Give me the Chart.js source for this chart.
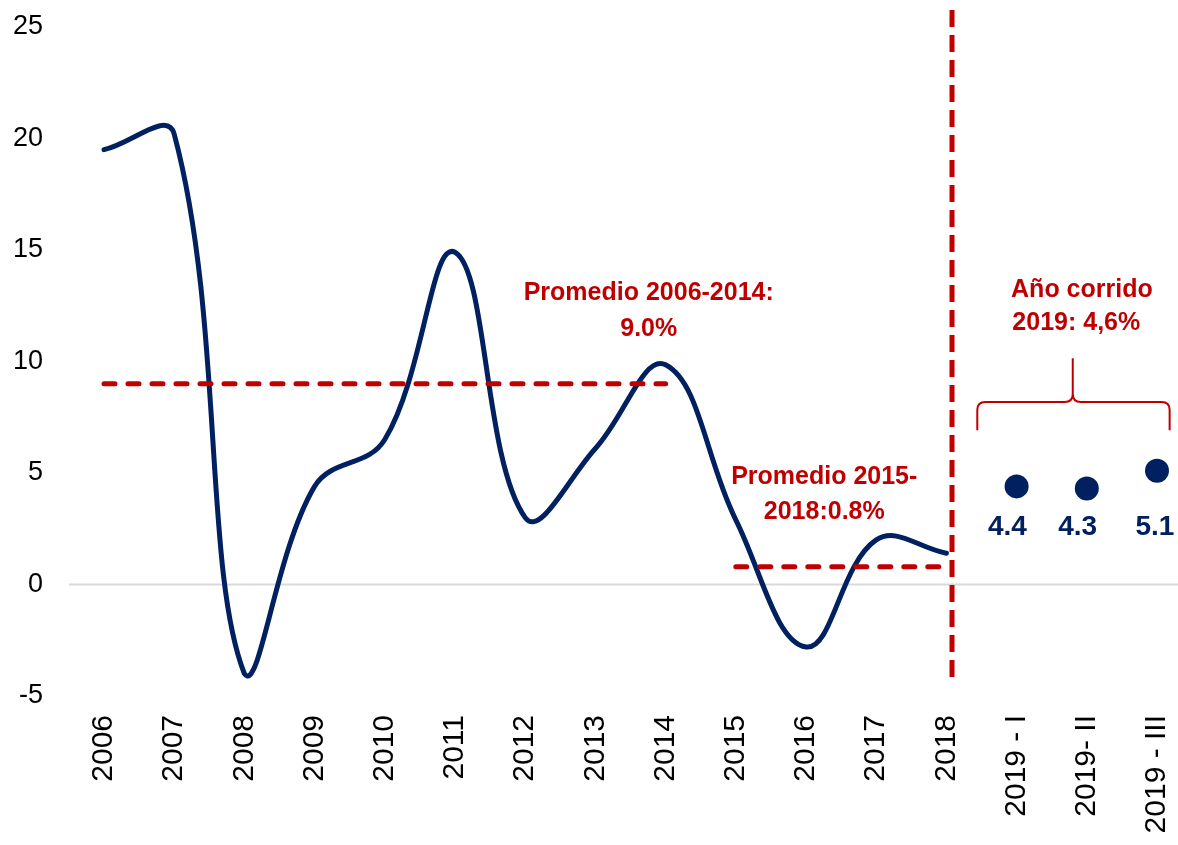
<!DOCTYPE html>
<html>
<head>
<meta charset="utf-8">
<script src="https://cdn.jsdelivr.net/npm/chart.js@4/dist/chart.umd.min.js"></script>
<style>
  html, body { margin: 0; padding: 0; background: #ffffff; overflow: hidden; }
  #wrap { width: 1178px; height: 845px; }
</style>
</head>
<body>
<div id="wrap"><canvas id="c" width="1178" height="845"></canvas></div>
<script>
// ---------------- DATA ----------------
const categories = ['2006','2007','2008','2009','2010','2011','2012','2013','2014','2015','2016','2017','2018','2019 - I','2019- II','2019 - III'];
const annualGrowth = [19.5, 20.2, -4.0, 4.4, 6.5, 14.9, 3.0, 6.1, 9.85, 2.9, -2.8, 2.0, 1.4, null, null, null];
const quarters2019 = [null, null, null, null, null, null, null, null, null, null, null, null, null, 4.4, 4.3, 5.1];
const avg2006_2014 = [9.0, 9.0, 9.0, 9.0, 9.0, 9.0, 9.0, 9.0, 9.0, null, null, null, null, null, null, null];
const avg2015_2018 = [null, null, null, null, null, null, null, null, null, 0.8, 0.8, 0.8, 0.8, null, null, null];
const yTicks = [-5, 0, 5, 10, 15, 20, 25];
const quarterLabels = ['4.4', '4.3', '5.1'];

// ---------------- STYLE ----------------
const NAVY = '#002060';
const RED = '#C00000';
const FONT = '"Liberation Sans", Arial, Helvetica, sans-serif';

const overlayPlugin = {
  id: 'overlay',
  beforeDatasetsDraw(chart) {
    const ctx = chart.ctx, y = chart.scales.y;
    const py = y.getPixelForValue(0);
    ctx.save();
    ctx.strokeStyle = '#d9d9d9';
    ctx.lineWidth = 2;
    ctx.beginPath();
    ctx.moveTo(69, py);
    ctx.lineTo(chart.width, py);
    ctx.stroke();
    ctx.restore();
  },
  afterDatasetsDraw(chart) {
    const ctx = chart.ctx, x = chart.scales.x, y = chart.scales.y;
    ctx.save();
    // vertical dashed separator
    const vx = x.getPixelForValue(12.08);
    ctx.strokeStyle = RED;
    ctx.lineWidth = 5;
    ctx.setLineDash([17, 8]);
    ctx.beginPath();
    ctx.moveTo(vx, y.getPixelForValue(25.76));
    ctx.lineTo(vx, y.getPixelForValue(-4.42));
    ctx.stroke();
    ctx.setLineDash([]);

    // curly bracket
    const bl = x.getPixelForValue(12.44), br = x.getPixelForValue(15.18), bm = x.getPixelForValue(13.8);
    const yEnd = y.getPixelForValue(6.92), yBar = y.getPixelForValue(8.18), yTip = y.getPixelForValue(10.15);
    const r = 8;
    ctx.lineWidth = 2;
    ctx.strokeStyle = RED;
    ctx.beginPath();
    ctx.moveTo(bl, yEnd);
    ctx.lineTo(bl, yBar + r);
    ctx.quadraticCurveTo(bl, yBar, bl + r, yBar);
    ctx.lineTo(bm - r, yBar);
    ctx.quadraticCurveTo(bm, yBar, bm, yBar - r);
    ctx.lineTo(bm, yTip);
    ctx.moveTo(bm, yBar - r);
    ctx.quadraticCurveTo(bm, yBar, bm + r, yBar);
    ctx.lineTo(br - r, yBar);
    ctx.quadraticCurveTo(br, yBar, br, yBar + r);
    ctx.lineTo(br, yEnd);
    ctx.stroke();

    // annotation texts
    ctx.textAlign = 'center';
    ctx.textBaseline = 'middle';
    ctx.fillStyle = RED;
    ctx.font = 'bold 25px ' + FONT;
    const notes = [
      ['Promedio 2006-2014:', 7.76, 13.05],
      ['9.0%', 7.76, 11.45],
      ['Promedio 2015-', 10.26, 4.8],
      ['2018:0.8%', 10.26, 3.25],
      ['Año corrido', 13.93, 13.2],
      ['2019: 4,6%', 13.85, 11.7]
    ];
    notes.forEach(n => ctx.fillText(n[0], x.getPixelForValue(n[1]), y.getPixelForValue(n[2])));

    // data labels for 2019 quarters
    ctx.fillStyle = NAVY;
    ctx.font = 'bold 28px ' + FONT;
    const offs = [-0.13, -0.13, -0.03];
    let k = 0;
    quarters2019.forEach((v, i) => {
      if (v === null) return;
      ctx.fillText(quarterLabels[k], x.getPixelForValue(i + offs[k]), y.getPixelForValue(2.55));
      k++;
    });
    ctx.restore();
  }
};

new Chart(document.getElementById('c'), {
  type: 'line',
  data: {
    labels: categories,
    datasets: [
      {
        data: avg2006_2014,
        borderColor: RED,
        borderWidth: 5,
        borderDash: [11, 13],
        borderCapStyle: 'round',
        pointRadius: 0,
        tension: 0,
        clip: false
      },
      {
        data: avg2015_2018,
        borderColor: RED,
        borderWidth: 5,
        borderDash: [11, 13],
        borderCapStyle: 'round',
        pointRadius: 0,
        tension: 0,
        clip: false
      },
      {
        data: annualGrowth,
        borderColor: NAVY,
        borderWidth: 5,
        borderCapStyle: 'round',
        borderJoinStyle: 'round',
        pointRadius: 0,
        tension: 0.4,
        clip: false
      },
      {
        data: quarters2019,
        showLine: false,
        pointRadius: 12,
        pointBackgroundColor: NAVY,
        pointBorderColor: NAVY,
        pointBorderWidth: 0,
        clip: false
      }
    ]
  },
  options: {
    responsive: false,
    animation: false,
    devicePixelRatio: 1,
    layout: { padding: { top: 27, right: 21, bottom: 0, left: 0 } },
    plugins: { legend: { display: false }, tooltip: { enabled: false } },
    scales: {
      x: {
        border: { display: false },
        grid: { display: false, drawTicks: false },
        ticks: {
          autoSkip: false,
          minRotation: 90,
          maxRotation: 90,
          padding: 19,
          color: '#000',
          font: { family: FONT, size: 30 }
        },
        afterFit(scale) {
          scale.height = 149;
          scale.paddingLeft = 0;
          scale.paddingRight = 0;
        }
      },
      y: {
        min: -5,
        max: 25,
        border: { display: false },
        grid: { display: false, drawTicks: false },
        afterBuildTicks(scale) { scale.ticks = yTicks.map(v => ({ value: v })); },
        ticks: {
          padding: 61,
          color: '#000',
          font: { family: FONT, size: 27 }
        },
        afterFit(scale) {
          scale.width = 104;
          scale.paddingTop = 0;
          scale.paddingBottom = 0;
        }
      }
    }
  },
  plugins: [overlayPlugin]
});
</script>
</body>
</html>
